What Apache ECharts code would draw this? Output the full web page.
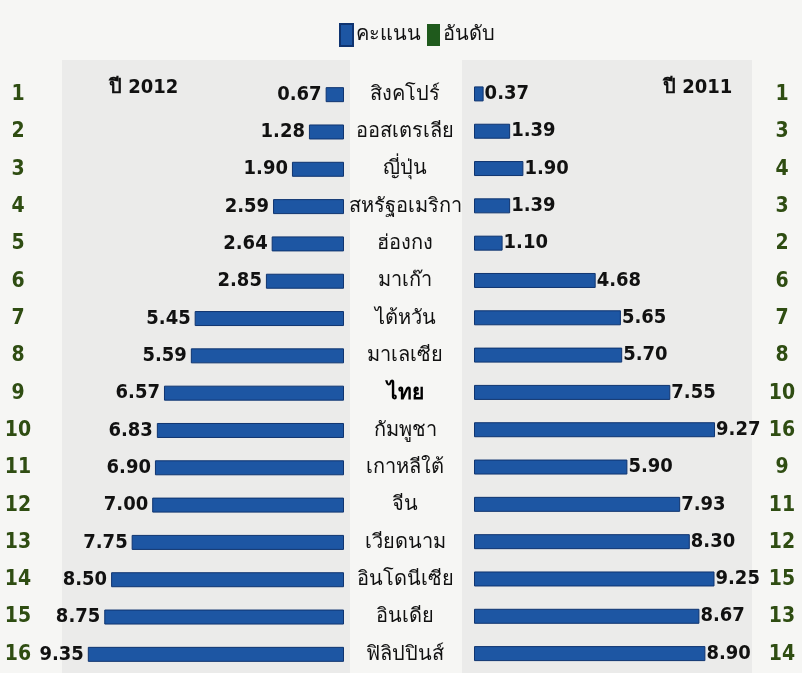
<!DOCTYPE html>
<html>
<head>
<meta charset="utf-8">
<script src="https://cdn.jsdelivr.net/npm/echarts@6/dist/echarts.min.js"></script>
<style>
  html, body { margin: 0; padding: 0; background: #f6f6f4; }
  #chart { width: 802px; height: 673px; }
</style>
</head>
<body>
<div id="chart"></div>
<script>
const countries = ['สิงคโปร์', 'ออสเตรเลีย', 'ญี่ปุ่น', 'สหรัฐอเมริกา', 'ฮ่องกง', 'มาเก๊า', 'ไต้หวัน', 'มาเลเซีย',
  'ไทย', 'กัมพูชา', 'เกาหลีใต้', 'จีน', 'เวียดนาม', 'อินโดนีเซีย', 'อินเดีย', 'ฟิลิปปินส์'];
const score2012 = [0.67, 1.28, 1.90, 2.59, 2.64, 2.85, 5.45, 5.59, 6.57, 6.83, 6.90, 7.00, 7.75, 8.50, 8.75, 9.35];
const score2011 = [0.37, 1.39, 1.90, 1.39, 1.10, 4.68, 5.65, 5.70, 7.55, 9.27, 5.90, 7.93, 8.30, 9.25, 8.67, 8.90];
const rank2012 = [1, 2, 3, 4, 5, 6, 7, 8, 9, 10, 11, 12, 13, 14, 15, 16];
const rank2011 = [1, 3, 4, 3, 2, 6, 7, 8, 10, 16, 9, 11, 12, 15, 13, 14];

const FONT = '"DejaVu Sans Condensed", "Noto Sans", sans-serif';
const BLUE = '#1d56a3';
const GREEN = '#1f5a1c';
const RANK_COLOR = '#2f4d12';

const rankLabel = (ranks) => ({
  margin: 0,
  fontFamily: FONT,
  fontWeight: 'bold',
  fontSize: 21,
  color: RANK_COLOR,
  align: 'center',
  formatter: (v, i) => ranks[i]
});

const option = {
  backgroundColor: '#f6f6f4',
  animation: false,
  graphic: [
    { type: 'rect', silent: true, z: -10, shape: { x: 62, y: 60, width: 288, height: 613 }, style: { fill: '#ebebea' } },
    { type: 'rect', silent: true, z: -10, shape: { x: 462, y: 60, width: 290, height: 613 }, style: { fill: '#ebebea' } }
  ],
  title: [
    { text: 'ปี 2012', left: 104, top: 73, textStyle: { fontFamily: FONT, fontSize: 20, fontWeight: 'bold', color: '#111' } },
    { text: 'ปี 2011', left: 658, top: 73, textStyle: { fontFamily: FONT, fontSize: 20, fontWeight: 'bold', color: '#111' } }
  ],
  legend: {
    top: 18,
    left: 334,
    itemWidth: 13,
    itemHeight: 22,
    itemGap: 6,
    icon: 'rect',
    data: ['คะแนน', 'อันดับ'],
    textStyle: { fontFamily: FONT, fontSize: 20, color: '#111', padding: [0, 0, 0, -2] }
  },
  grid: [
    { left: 70, top: 76, width: 274, height: 600 },
    { left: 474, top: 76, width: 260, height: 600 }
  ],
  xAxis: [
    { type: 'value', gridIndex: 0, min: 0, max: 10, inverse: true, show: false },
    { type: 'value', gridIndex: 1, min: 0, max: 10, show: false }
  ],
  yAxis: [
    {
      type: 'category', gridIndex: 0, data: countries, inverse: true, position: 'right',
      axisLine: { show: false }, axisTick: { show: false },
      axisLabel: {
        margin: 61, align: 'center', fontFamily: FONT, fontSize: 20, color: '#111',
        formatter: (v) => v === 'ไทย' ? '{b|' + v + '}' : v,
        rich: { b: { fontFamily: FONT, fontSize: 21, fontWeight: 'bold', color: '#000' } }
      }
    },
    {
      type: 'category', gridIndex: 0, data: countries, inverse: true, position: 'left',
      axisLine: { show: false }, axisTick: { show: false },
      axisLabel: Object.assign(rankLabel(rank2012), { margin: 52 })
    },
    {
      type: 'category', gridIndex: 1, data: countries, inverse: true, position: 'right',
      axisLine: { show: false }, axisTick: { show: false },
      axisLabel: Object.assign(rankLabel(rank2011), { margin: 48 })
    }
  ],
  series: [
    {
      name: 'คะแนน',
      type: 'bar',
      xAxisIndex: 0,
      yAxisIndex: 0,
      data: score2012,
      barWidth: 15,
      itemStyle: { color: BLUE, borderColor: '#0f3470', borderWidth: 1 },
      label: {
        show: true, position: 'left', distance: 4,
        fontFamily: FONT, fontSize: 20, fontWeight: 'bold', color: '#111',
        formatter: (p) => p.value.toFixed(2)
      }
    },
    {
      name: 'คะแนน',
      type: 'bar',
      xAxisIndex: 1,
      yAxisIndex: 2,
      data: score2011,
      barWidth: 15,
      itemStyle: { color: BLUE, borderColor: '#0f3470', borderWidth: 1 },
      label: {
        show: true, position: 'right', distance: 1,
        fontFamily: FONT, fontSize: 20, fontWeight: 'bold', color: '#111',
        formatter: (p) => p.value.toFixed(2)
      }
    },
    {
      // legend entry only, ranks are drawn as axis labels
      name: 'อันดับ',
      type: 'bar',
      xAxisIndex: 1,
      yAxisIndex: 2,
      data: [],
      itemStyle: { color: GREEN }
    }
  ]
};

const myChart = echarts.init(document.getElementById('chart'));
myChart.setOption(option);
window.addEventListener('resize', function () {
  myChart.resize();
});
</script>
</body>
</html>
